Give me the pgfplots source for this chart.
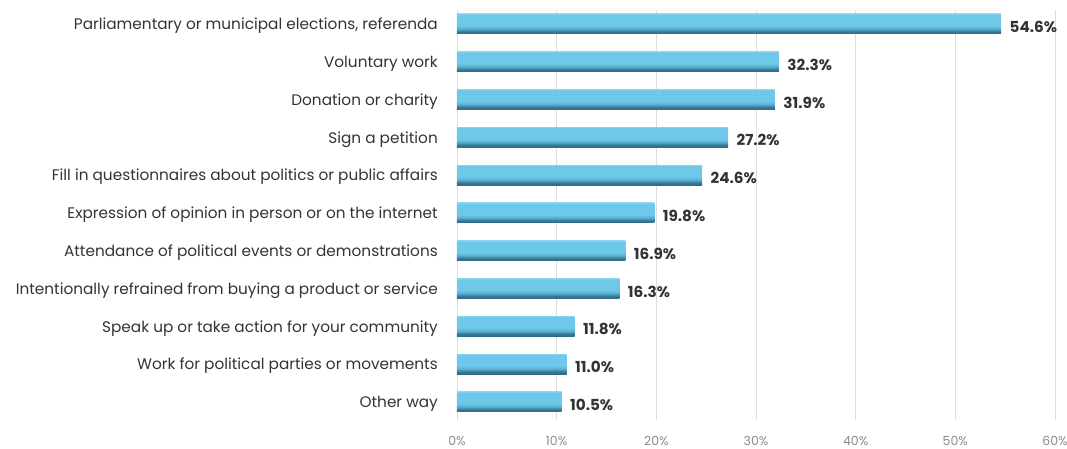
\documentclass[border=0pt]{standalone}
\usepackage{fontspec}
\setmainfont{Poppins}
\usepackage{pgfplots}
\pgfplotsset{compat=1.18}

\definecolor{barLight}{HTML}{6DC8EA}
\definecolor{barMid}{HTML}{5AAFCF}
\definecolor{barDark}{HTML}{2E6A84}
\definecolor{labelText}{HTML}{333333}
\definecolor{tickText}{HTML}{8A8A8A}
\definecolor{gridGray}{HTML}{DDDDDD}

% bar shading: flat light blue with a dark band along the lower edge
\pgfdeclareverticalshading{barshade}{100bp}{%
  color(0bp)=(barDark); color(25bp)=(barDark); color(31bp)=(barDark!80!barMid);
  color(38bp)=(barMid); color(46bp)=(barLight); color(72bp)=(barLight);
  color(75bp)=(barLight!85!white); color(100bp)=(barLight!85!white)}

\pgfplotsset{onebar/.style={draw=none, shading=barshade, forget plot}}

\begin{document}
\begin{tikzpicture}
\path[use as bounding box] (-457pt,-28pt) rectangle (610pt,420pt);
\begin{axis}[
    scale only axis,
    width=598pt, height=410pt,
    xbar, bar width=20pt, bar shift=0pt,
    xmin=0, xmax=60,
    xtick={0,10,...,60},
    xticklabel={\pgfmathprintnumber{\tick}\%},
    /pgf/number format/assume math mode=true,
    ymin=-0.37, ymax=10.48,
    y dir=reverse,
    ytick={0,...,10},
    yticklabels={
      Parliamentary or municipal elections\char44{} referenda,
      Voluntary work,
      Donation or charity,
      Sign a petition,
      Fill in questionnaires about politics or public affairs,
      Expression of opinion in person or on the internet,
      Attendance of political events or demonstrations,
      Intentionally refrained from buying a product or service,
      Speak up or take action for your community,
      Work for political parties or movements,
      Other way},
    major tick length=0pt,
    axis line style={draw=none},
    xmajorgrids, grid style={gridGray, line width=0.8pt},
    yticklabel style={inner sep=0pt, xshift=-19pt, yshift=-2pt, font=\fontsize{15.3}{18}\selectfont, text=labelText},
    xticklabel style={inner sep=0pt, yshift=-16pt, font=\fontsize{12.5}{15}\selectfont, text=tickText},
    point meta=x,
    nodes near coords={\pgfmathprintnumber[fixed,fixed zerofill,precision=1]{\pgfplotspointmeta}\%},
    nodes near coords style={anchor=west, xshift=5pt, yshift=-3pt, font=\bfseries\fontsize{15.2}{18}\selectfont, text=labelText},
]
\addplot[onebar] coordinates {(54.6,0)};
\addplot[onebar] coordinates {(32.3,1)};
\addplot[onebar] coordinates {(31.9,2)};
\addplot[onebar] coordinates {(27.2,3)};
\addplot[onebar] coordinates {(24.6,4)};
\addplot[onebar] coordinates {(19.8,5)};
\addplot[onebar] coordinates {(16.9,6)};
\addplot[onebar] coordinates {(16.3,7)};
\addplot[onebar] coordinates {(11.8,8)};
\addplot[onebar] coordinates {(11.0,9)};
\addplot[onebar] coordinates {(10.5,10)};
\end{axis}
\end{tikzpicture}
\end{document}
